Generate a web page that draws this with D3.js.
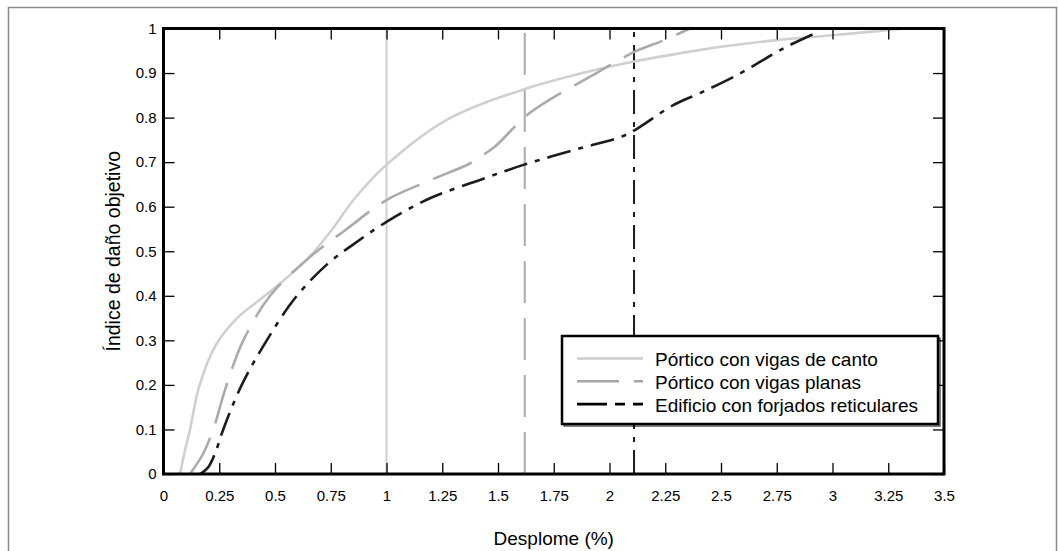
<!DOCTYPE html>
<html>
<head>
<meta charset="utf-8">
<script src="https://cdn.jsdelivr.net/npm/d3@7"></script>
<style>
  html, body { margin: 0; padding: 0; background: #fff; }
  svg { display: block; font-family: "Liberation Sans", Arial, sans-serif; }
</style>
</head>
<body>
<svg id="chart" width="1058" height="551"></svg>
<script>
// Drift (%) vs. target damage index for three building typologies
const xTicks = [0, 0.25, 0.5, 0.75, 1, 1.25, 1.5, 1.75, 2, 2.25, 2.5, 2.75, 3, 3.25, 3.5];
const yTicks = [0, 0.1, 0.2, 0.3, 0.4, 0.5, 0.6, 0.7, 0.8, 0.9, 1];

const seriesNames = [
  "Pórtico con vigas de canto",
  "Pórtico con vigas planas",
  "Edificio con forjados reticulares"
];

// [drift %, damage index]
const cantoPoints = [
  [0.074, 0], [0.095, 0.05], [0.119, 0.1], [0.162, 0.2], [0.235, 0.29], [0.33, 0.35],
  [0.455, 0.4], [0.54, 0.435], [0.649, 0.484], [0.75, 0.545],
  [0.86, 0.62], [1.0, 0.694], [1.27, 0.795], [1.62, 0.864], [1.97, 0.911],
  [2.11, 0.926], [2.41, 0.952], [2.5, 0.959], [2.75, 0.974], [3.0, 0.985], [3.33, 1.0]
];
const planasPoints = [
  [0.119, 0], [0.178, 0.046], [0.223, 0.1], [0.283, 0.2], [0.358, 0.3], [0.478, 0.4],
  [0.649, 0.484], [0.822, 0.55], [1.0, 0.615], [1.2, 0.66], [1.374, 0.697], [1.42, 0.712],
  [1.487, 0.735], [1.621, 0.802], [1.718, 0.836], [1.913, 0.892], [2.114, 0.948],
  [2.241, 0.973], [2.361, 1.0]
];
const reticularesPoints = [
  [0.164, 0], [0.2, 0.015], [0.231, 0.046], [0.268, 0.1], [0.351, 0.2], [0.463, 0.3],
  [0.59, 0.395], [0.732, 0.47], [0.85, 0.515], [1.0, 0.566],
  [1.195, 0.619], [1.419, 0.66], [1.621, 0.695], [1.868, 0.731], [2.047, 0.756],
  [2.114, 0.772], [2.286, 0.828], [2.406, 0.855], [2.585, 0.899], [2.778, 0.955], [2.93, 0.991]
];

// Threshold drift for each typology (vertical reference lines)
const thresholds = [1.0, 1.62, 2.11];

const styles = [
  { color: "#d0d0d0", dash: null },
  { color: "#ababab", dash: "42,15" },
  { color: "#1c1c1c", dash: "24,8,5,8" }
];

const svg = d3.select("#chart");
const plot = { left: 163.5, right: 944, top: 28.5, bottom: 474 };

// Outer frame
svg.append("rect")
  .attr("x", 8.5).attr("y", 7.5).attr("width", 1048).attr("height", 580)
  .attr("fill", "#fff").attr("stroke", "#8a8a8a").attr("stroke-width", 1.5);

const x = d3.scaleLinear().domain([0, 3.5]).range([plot.left, plot.right]);
const y = d3.scaleLinear().domain([0, 1]).range([plot.bottom, plot.top]);

const g = svg.append("g");

// Vertical threshold lines
thresholds.forEach((t, i) => {
  g.append("line")
    .attr("x1", x(t)).attr("x2", x(t))
    .attr("y1", y(0)).attr("y2", y(1))
    .attr("stroke", styles[i].color)
    .attr("stroke-width", 2)
    .attr("stroke-dasharray", styles[i].dash);
});

// Curves
const line = d3.line()
  .x(d => x(d[0]))
  .y(d => y(d[1]))
  .curve(d3.curveCatmullRom.alpha(0.5));

[cantoPoints, planasPoints, reticularesPoints].forEach((pts, i) => {
  g.append("path")
    .datum(pts)
    .attr("d", line)
    .attr("fill", "none")
    .attr("stroke", styles[i].color)
    .attr("stroke-width", 2.6)
    .attr("stroke-dasharray", styles[i].dash);
});

// Axes (ticks pointing inward on all four sides)
const fmt = d => String(d);
const tickLen = 11;

const axB = svg.append("g").attr("transform", `translate(0,${plot.bottom})`)
  .call(d3.axisBottom(x).tickValues(xTicks).tickFormat(fmt).tickSizeInner(-tickLen).tickSizeOuter(0).tickPadding(16));
const axT = svg.append("g").attr("transform", `translate(0,${plot.top})`)
  .call(d3.axisTop(x).tickValues(xTicks).tickFormat("").tickSizeInner(-tickLen).tickSizeOuter(0));
const axL = svg.append("g").attr("transform", `translate(${plot.left},0)`)
  .call(d3.axisLeft(y).tickValues(yTicks).tickFormat(fmt).tickSizeInner(-tickLen).tickSizeOuter(0).tickPadding(7));
const axR = svg.append("g").attr("transform", `translate(${plot.right},0)`)
  .call(d3.axisRight(y).tickValues(yTicks).tickFormat("").tickSizeInner(-tickLen).tickSizeOuter(0));

[axB, axT, axL, axR].forEach(a => {
  a.select(".domain").remove();
  a.selectAll(".tick line").attr("stroke", "#000").attr("stroke-width", 1.3);
  a.selectAll("text").attr("fill", "#000").attr("font-size", 15)
    .attr("font-family", "'Liberation Sans', Arial, sans-serif");
});
axB.selectAll("text").attr("dy", "0.71em");

// Thick plot box
svg.append("rect")
  .attr("x", plot.left).attr("y", plot.top)
  .attr("width", plot.right - plot.left).attr("height", plot.bottom - plot.top)
  .attr("fill", "none").attr("stroke", "#000").attr("stroke-width", 3);

// Axis titles
svg.append("text")
  .attr("x", (plot.left + plot.right) / 2).attr("y", 545)
  .attr("text-anchor", "middle").attr("font-size", 19).attr("fill", "#000")
  .text("Desplome (%)");

svg.append("text")
  .attr("transform", `translate(120,${(plot.top + plot.bottom) / 2}) rotate(-90)`)
  .attr("text-anchor", "middle").attr("font-size", 19.5).attr("fill", "#000")
  .text("Índice de daño objetivo");

// Legend
const lg = { x: 562, y: 336, w: 376, h: 88 };
const legend = svg.append("g");
legend.append("rect")
  .attr("x", lg.x + 2).attr("y", lg.y + 2).attr("width", lg.w).attr("height", lg.h)
  .attr("fill", "none").attr("stroke", "#000").attr("stroke-width", 1);
legend.append("rect")
  .attr("x", lg.x).attr("y", lg.y).attr("width", lg.w).attr("height", lg.h)
  .attr("fill", "#fff").attr("stroke", "#000").attr("stroke-width", 2.5);

const legendDash = [null, "42,15", "30,8,10,8"];
const legendColor = ["#cccccc", "#a5a5a5", "#000"];
seriesNames.forEach((name, i) => {
  const ry = 358.5 + i * 22.8;
  legend.append("line")
    .attr("x1", 577).attr("x2", 643).attr("y1", ry).attr("y2", ry)
    .attr("stroke", legendColor[i]).attr("stroke-width", 2.6)
    .attr("stroke-dasharray", legendDash[i]);
  legend.append("text")
    .attr("x", 655).attr("y", ry + 7.5)
    .attr("font-size", 19).attr("fill", "#000")
    .text(name);
});
</script>
</body>
</html>
